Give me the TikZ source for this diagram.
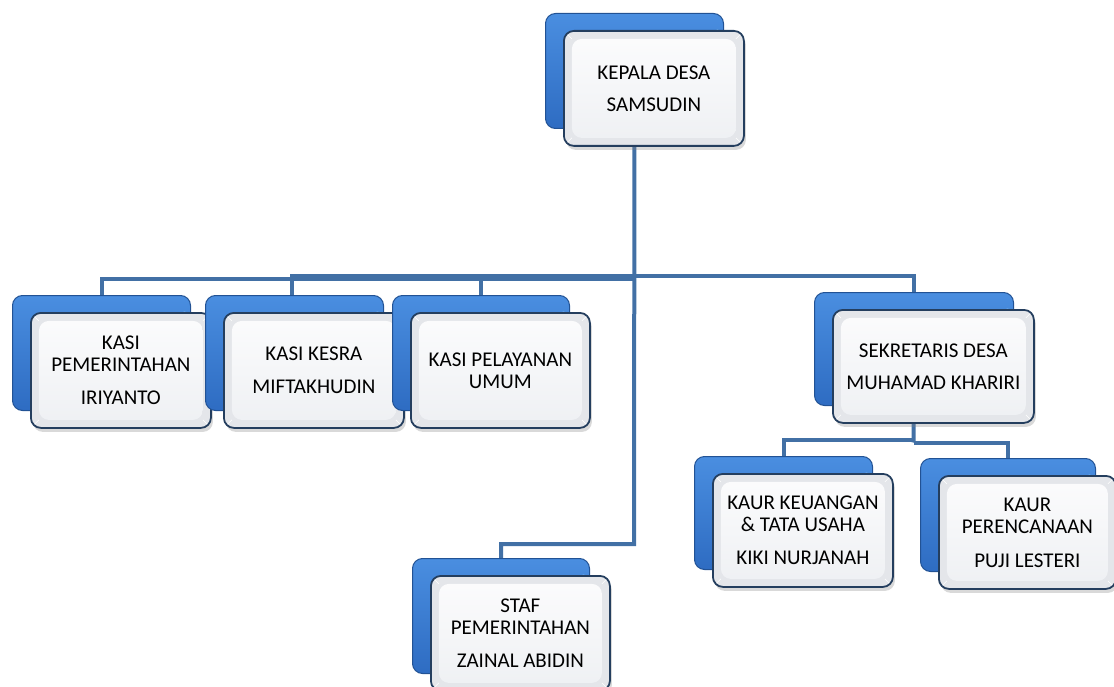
\documentclass[tikz,border=0pt]{standalone}
\usepackage{fontspec}
\setmainfont{Carlito}
\usetikzlibrary{shadows}
\pgfdeclarelayer{background}
\pgfsetlayers{background,main}
\definecolor{conncol}{RGB}{66,112,165}
\definecolor{bluetop}{RGB}{74,142,224}
\definecolor{bluebot}{RGB}{46,108,194}
\definecolor{blueedge}{RGB}{34,82,148}
\definecolor{bluehi}{RGB}{150,210,250}
\definecolor{frontedge}{RGB}{36,62,94}
\definecolor{ringcol}{RGB}{228,230,234}
\definecolor{innertop}{RGB}{252,252,253}
\definecolor{innerbot}{RGB}{238,240,243}
\tikzset{
  conn/.style={draw=conncol, line width=4pt},
  backbox/.style={rectangle, rounded corners=10pt, draw=blueedge, line width=1pt,
    top color=bluetop, bottom color=bluebot, anchor=north west, inner sep=0pt,
    path picture={\fill[bluehi, opacity=.8]
      ([shift={(-6pt,-20pt)}]path picture bounding box.north east) circle (4pt);}},
  frontbox/.style={rectangle, rounded corners=10pt, draw=frontedge, line width=1.8pt,
    fill=ringcol, anchor=north west, inner sep=0pt, align=center,
    font=\fontsize{21pt}{22pt}\selectfont,
    drop shadow={shadow xshift=2pt, shadow yshift=-4pt, opacity=.3},
    path picture={
      \shade[top color=innertop, bottom color=innerbot]
        ([shift={(8pt,-8pt)}]path picture bounding box.north west) rectangle
        ([shift={(-8pt,8pt)}]path picture bounding box.south east);
      \draw[white, line width=.6pt]
        (path picture bounding box.north west) -- ([shift={(8pt,-8pt)}]path picture bounding box.north west)
        (path picture bounding box.north east) -- ([shift={(-8pt,-8pt)}]path picture bounding box.north east)
        (path picture bounding box.south west) -- ([shift={(8pt,8pt)}]path picture bounding box.south west)
        (path picture bounding box.south east) -- ([shift={(-8pt,8pt)}]path picture bounding box.south east);
    }}
}
\newcommand\orgunit[6]{%
  \node[backbox, minimum width=#4pt, minimum height=#5pt] (#1b) at (#2,#3) {};
  \node[frontbox, minimum width=#4pt+2pt, minimum height=#5pt] (#1) at (#2+18,#3+17) {#6};
}
\begin{document}
\begin{tikzpicture}[x=1pt, y=-1pt]
\useasboundingbox (0,0) rectangle (1114,687);
\orgunit{kd}{545}{13}{178}{115}{KEPALA DESA\\[10pt]SAMSUDIN}
\orgunit{kp}{12}{295}{178}{115}{KASI\\PEMERINTAHAN\\[11pt]IRIYANTO}
\orgunit{kk}{205}{295}{178}{115}{KASI KESRA\\[11pt]MIFTAKHUDIN}
\orgunit{kpl}{392}{295}{177}{115}{KASI PELAYANAN\\UMUM}
\orgunit{sk}{814}{292}{199}{113}{SEKRETARIS DESA\\[10pt]MUHAMAD KHARIRI}
\orgunit{keu}{694}{456}{178}{113}{KAUR KEUANGAN\\\& TATA USAHA\\[11pt]KIKI NURJANAH}
\orgunit{per}{920}{458}{175}{113}{KAUR\\PERENCANAAN\\[12pt]PUJI LESTERI}
\orgunit{staf}{412}{558}{177}{115}{STAF\\PEMERINTAHAN\\[11pt]ZAINAL ABIDIN}
\begin{pgfonlayer}{background}
  \coordinate (busL) at (634,279);
  \coordinate (busR) at (634,275.5);
  \coordinate (stafj) at (634,544);
  \coordinate (skjL) at (913.5,440);
  \coordinate (skjR) at (913.5,442.5);
  \draw[conn] (kdb.center) -- (stafj) -| (stafb.center);
  \draw[conn] (busL) -| (kpb.center);
  \draw[conn] (busL) -| (kplb.center);
  \draw[conn] (busR) -| ([xshift=-3pt]kkb.center);
  \draw[conn] (busR) -| (skb.center);
  \draw[conn] (skb.center) -- (skjR);
  \draw[conn] (skjL) -| (keub.center);
  \draw[conn] (skjR) -| (perb.center);
\end{pgfonlayer}
\end{tikzpicture}
\end{document}
